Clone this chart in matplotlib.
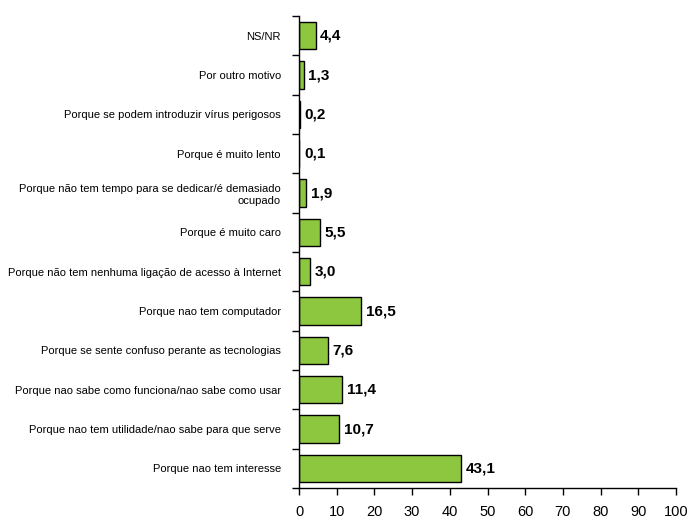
import matplotlib
matplotlib.use("Agg")
import matplotlib.pyplot as plt
import numpy as np

plt.rcParams['font.family'] = ['Liberation Sans', 'DejaVu Sans']

categories = [
    "Porque nao tem interesse",
    "Porque nao tem utilidade/nao sabe para que serve",
    "Porque nao sabe como funciona/nao sabe como usar",
    "Porque se sente confuso perante as tecnologias",
    "Porque nao tem computador",
    "Porque não tem nenhuma ligação de acesso à Internet",
    "Porque é muito caro",
    "Porque não tem tempo para se dedicar/é demasiado\nocupado",
    "Porque é muito lento",
    "Porque se podem introduzir vírus perigosos",
    "Por outro motivo",
    "NS/NR",
]
values = [43.1, 10.7, 11.4, 7.6, 16.5, 3.0, 5.5, 1.9, 0.1, 0.2, 1.3, 4.4]
xticks = [0, 10, 20, 30, 40, 50, 60, 70, 80, 90, 100]

fig = plt.figure(figsize=(6.89, 5.21), dpi=100)
ax = fig.add_axes([299/689, 1-488/521, (676-299)/689, (488-16)/521])

y = np.arange(len(categories))
ax.barh(y, values, height=0.7, color='#8DC63F', edgecolor='black', linewidth=1.0)

for yi, v in zip(y, values):
    ax.text(v + 1.2, yi, f"{v:.1f}".replace('.', ','), va='center', ha='left',
            fontsize=11, fontweight='bold')

ax.set_ylim(-0.5, len(categories) - 0.5)
ax.set_xlim(0, 100)
ax.set_xticks(xticks)
ax.set_xticklabels([str(t) for t in xticks], fontsize=10.5)
ax.set_yticks(y)
ax.set_yticklabels(categories, fontsize=8.0, ha='right', multialignment='right')
ax.tick_params(axis='y', length=0, pad=13)
ax.set_yticks(np.arange(-0.5, len(categories), 1), minor=True)
ax.tick_params(axis='y', which='minor', length=5, direction='out', width=1)
ax.tick_params(axis='x', length=5, width=1, direction='out', pad=7)

for s in ['top', 'right']:
    ax.spines[s].set_visible(False)
for s in ['left', 'bottom']:
    ax.spines[s].set_linewidth(1.0)

fig.savefig('out.png', dpi=100)
